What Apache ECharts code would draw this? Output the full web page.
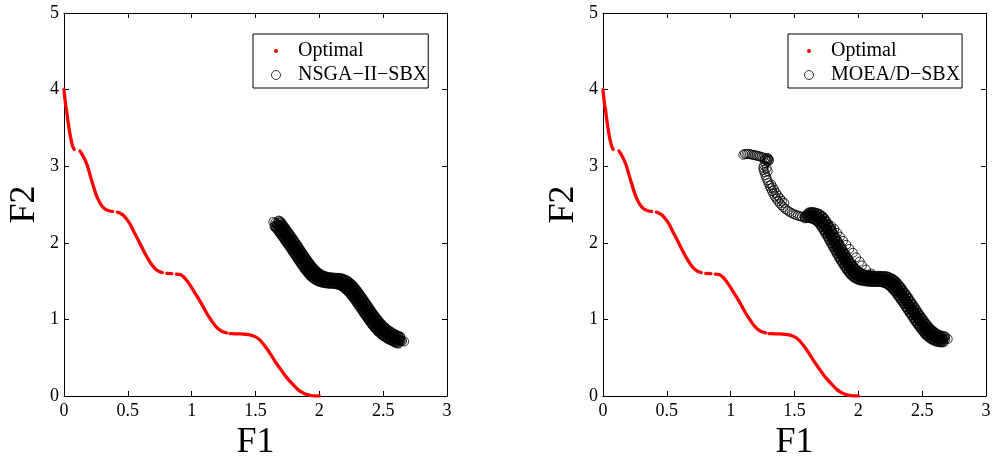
<!DOCTYPE html>
<html>
<head>
<meta charset="utf-8">
<script src="https://cdn.jsdelivr.net/npm/echarts@6.0.0/dist/echarts.min.js"></script>
<style>
  html, body { margin: 0; padding: 0; background: #fff; }
  #chart { width: 995px; height: 457px; }
</style>
</head>
<body>
<div id="chart"></div>
<script>
// True Pareto front, drawn as separate pieces (the front is disconnected at the plateaus)
const optimalA = [[0,4.0],[0.006,3.90],[0.013,3.80],[0.021,3.72],[0.030,3.60],[0.040,3.49],[0.050,3.39],[0.060,3.31],[0.070,3.25],[0.080,3.22]];
const optimalB = [[0.125,3.20],[0.150,3.13],[0.178,3.03],[0.205,2.88],[0.230,2.74],[0.256,2.61],[0.282,2.52],[0.308,2.46],[0.334,2.43],[0.358,2.415],[0.381,2.41]];
const optimalC = [[0.418,2.40],[0.440,2.385],[0.465,2.36],[0.490,2.31],[0.517,2.245],[0.555,2.12],[0.595,1.99],[0.625,1.89],[0.655,1.80],[0.685,1.72],[0.715,1.66],[0.745,1.625],[0.770,1.61]];
const optimalD = [[0.805,1.60],[0.845,1.597]];
const optimalE = [[0.880,1.592],[0.910,1.585],[0.940,1.55],[0.965,1.50],[0.990,1.44],[1.013,1.38],[1.050,1.28],[1.085,1.18],[1.118,1.08],[1.155,0.985],[1.196,0.895],[1.235,0.845],[1.274,0.825]];
const optimalF = [[1.300,0.815],[1.340,0.812],[1.378,0.810],[1.420,0.806],[1.457,0.798],[1.500,0.772],[1.535,0.73],[1.575,0.65],[1.614,0.557],[1.650,0.46],[1.692,0.36],[1.740,0.25],[1.796,0.144],[1.835,0.08],[1.874,0.04],[1.920,0.012],[1.960,0.002],[2.000,0]];

// NSGA-II-SBX final population: loose ends, dense core and the two flanks of the band
const nsgaEnds = [[1.640,2.272],[1.655,2.262],[1.668,2.250],[2.648,0.717],[2.664,0.712]];
const nsgaMid = [[1.680,2.232],[1.692,2.205],[1.704,2.178],[1.716,2.150],[1.728,2.122],[1.740,2.094],[1.752,2.066],[1.764,2.038],[1.776,2.009],[1.788,1.980],[1.800,1.950],[1.812,1.921],[1.824,1.891],[1.836,1.861],[1.848,1.831],[1.860,1.801],[1.872,1.772],[1.884,1.743],[1.896,1.715],[1.908,1.688],[1.920,1.662],[1.932,1.638],[1.944,1.616],[1.956,1.596],[1.968,1.578],[1.980,1.563],[1.994,1.549],[2.008,1.537],[2.024,1.527],[2.040,1.519],[2.058,1.513],[2.076,1.509],[2.094,1.507],[2.112,1.505],[2.130,1.503],[2.148,1.499],[2.165,1.493],[2.180,1.484],[2.195,1.472],[2.208,1.457],[2.221,1.440],[2.234,1.420],[2.246,1.399],[2.258,1.376],[2.270,1.352],[2.282,1.326],[2.294,1.299],[2.306,1.271],[2.318,1.243],[2.330,1.214],[2.342,1.185],[2.354,1.156],[2.366,1.126],[2.378,1.097],[2.390,1.068],[2.402,1.039],[2.414,1.011],[2.426,0.984],[2.438,0.958],[2.450,0.933],[2.463,0.909],[2.476,0.886],[2.490,0.864],[2.505,0.843],[2.520,0.823],[2.536,0.805],[2.552,0.788],[2.568,0.773],[2.584,0.759],[2.600,0.746],[2.616,0.735],[2.632,0.725]];
const nsgaUpper = [[1.684,2.285],[1.696,2.267],[1.708,2.240],[1.720,2.213],[1.732,2.185],[1.744,2.157],[1.756,2.129],[1.768,2.101],[1.780,2.073],[1.792,2.044],[1.804,2.015],[1.816,1.985],[1.828,1.956],[1.840,1.926],[1.852,1.896],[1.864,1.866],[1.876,1.836],[1.888,1.807],[1.900,1.778],[1.912,1.750],[1.924,1.723],[1.936,1.697],[1.948,1.673],[1.960,1.651],[1.972,1.631],[1.984,1.613],[1.996,1.598],[2.010,1.584],[2.024,1.572],[2.040,1.562],[2.056,1.554],[2.074,1.548],[2.092,1.544],[2.110,1.542],[2.128,1.540],[2.146,1.538],[2.164,1.534],[2.181,1.528],[2.196,1.519],[2.211,1.507],[2.224,1.492],[2.237,1.475],[2.250,1.455],[2.262,1.434],[2.274,1.411],[2.286,1.387],[2.298,1.361],[2.310,1.334],[2.322,1.306],[2.334,1.278],[2.346,1.249],[2.358,1.220],[2.370,1.191],[2.382,1.161],[2.394,1.132],[2.406,1.103],[2.418,1.074],[2.430,1.046],[2.442,1.019],[2.454,0.993],[2.466,0.968],[2.479,0.944],[2.492,0.921],[2.506,0.899],[2.521,0.878],[2.536,0.858],[2.552,0.840],[2.568,0.823],[2.584,0.808],[2.600,0.794],[2.616,0.781],[2.632,0.770]];
const nsgaLower = [[1.652,2.215],[1.664,2.197],[1.676,2.170],[1.688,2.143],[1.700,2.115],[1.712,2.087],[1.724,2.059],[1.736,2.031],[1.748,2.003],[1.760,1.974],[1.772,1.945],[1.784,1.915],[1.796,1.886],[1.808,1.856],[1.820,1.826],[1.832,1.796],[1.844,1.766],[1.856,1.737],[1.868,1.708],[1.880,1.680],[1.892,1.653],[1.904,1.627],[1.916,1.603],[1.928,1.581],[1.940,1.561],[1.952,1.543],[1.964,1.528],[1.978,1.514],[1.992,1.502],[2.008,1.492],[2.024,1.484],[2.042,1.478],[2.060,1.474],[2.078,1.472],[2.096,1.470],[2.114,1.468],[2.132,1.464],[2.149,1.458],[2.164,1.449],[2.179,1.437],[2.192,1.422],[2.205,1.405],[2.218,1.385],[2.230,1.364],[2.242,1.341],[2.254,1.317],[2.266,1.291],[2.278,1.264],[2.290,1.236],[2.302,1.208],[2.314,1.179],[2.326,1.150],[2.338,1.121],[2.350,1.091],[2.362,1.062],[2.374,1.033],[2.386,1.004],[2.398,0.976],[2.410,0.949],[2.422,0.923],[2.434,0.898],[2.447,0.874],[2.460,0.851],[2.474,0.829],[2.489,0.808],[2.504,0.788],[2.520,0.770],[2.536,0.753],[2.552,0.738],[2.568,0.724],[2.584,0.711],[2.600,0.700],[2.616,0.690]];

// MOEA/D-SBX final population
const moeaChain = [[1.099,3.150],[1.112,3.160],[1.125,3.158],[1.138,3.160],[1.151,3.156],[1.164,3.152],[1.177,3.148],[1.190,3.143],[1.203,3.138],[1.216,3.133],[1.229,3.126],[1.242,3.120],[1.255,3.113],[1.268,3.105],[1.280,3.098],[1.292,3.092],[1.300,3.085],[1.290,3.110],[1.298,3.070],[1.270,3.085],[1.285,3.065],[1.272,3.040],[1.262,3.010],[1.256,2.980],[1.258,2.950],[1.265,2.920],[1.272,2.885],[1.280,2.850],[1.288,2.815],[1.296,2.780],[1.305,2.745],[1.314,2.710],[1.324,2.675],[1.334,2.640],[1.346,2.605],[1.358,2.575],[1.371,2.545],[1.385,2.515],[1.399,2.488],[1.414,2.463],[1.430,2.440],[1.446,2.420],[1.462,2.403],[1.478,2.388],[1.494,2.375],[1.510,2.364],[1.526,2.355],[1.542,2.347],[1.558,2.340],[1.318,2.760],[1.330,2.725],[1.342,2.690],[1.356,2.650],[1.370,2.615],[1.386,2.580],[1.402,2.548],[1.420,2.520],[1.282,2.975],[1.290,2.935]];
const moeaEnds = [[1.580,2.345],[2.680,0.740],[2.700,0.745]];
const moeaMid = [[1.600,2.360],[1.620,2.365],[1.640,2.360],[1.660,2.350],[1.680,2.335],[1.700,2.310],[1.715,2.280],[1.730,2.245],[1.745,2.205],[1.760,2.165],[1.775,2.120],[1.790,2.075],[1.805,2.030],[1.820,1.985],[1.835,1.940],[1.850,1.895],[1.865,1.850],[1.880,1.810],[1.895,1.770],[1.910,1.730],[1.925,1.695],[1.940,1.660],[1.955,1.630],[1.970,1.605],[1.985,1.585],[2.000,1.570],[2.020,1.555],[2.040,1.545],[2.060,1.540],[2.080,1.535],[2.100,1.532],[2.120,1.530],[2.140,1.529],[2.160,1.528],[2.180,1.527],[2.200,1.525],[2.220,1.515],[2.240,1.500],[2.255,1.485],[2.270,1.465],[2.285,1.440],[2.300,1.410],[2.315,1.380],[2.330,1.345],[2.345,1.310],[2.360,1.275],[2.375,1.240],[2.390,1.200],[2.405,1.165],[2.420,1.125],[2.435,1.090],[2.450,1.050],[2.465,1.015],[2.480,0.980],[2.495,0.945],[2.510,0.910],[2.525,0.880],[2.540,0.850],[2.555,0.825],[2.570,0.805],[2.585,0.785],[2.600,0.770],[2.620,0.755],[2.640,0.745],[2.660,0.740]];
const moeaUpper = [[1.616,2.395],[1.636,2.400],[1.656,2.395],[1.676,2.385],[1.696,2.370],[1.716,2.345],[1.731,2.315],[1.746,2.280],[1.761,2.240],[1.776,2.200],[1.791,2.155],[1.806,2.110],[1.821,2.065],[1.836,2.020],[1.851,1.975],[1.866,1.930],[1.881,1.885],[1.896,1.845],[1.911,1.805],[1.926,1.765],[1.941,1.730],[1.956,1.695],[1.971,1.665],[1.986,1.640],[2.001,1.620],[2.016,1.605],[2.036,1.590],[2.056,1.580],[2.076,1.575],[2.096,1.570],[2.116,1.567],[2.136,1.565],[2.156,1.564],[2.176,1.563],[2.196,1.562],[2.216,1.560],[2.236,1.550],[2.256,1.535],[2.271,1.520],[2.286,1.500],[2.301,1.475],[2.316,1.445],[2.331,1.415],[2.346,1.380],[2.361,1.345],[2.376,1.310],[2.391,1.275],[2.406,1.235],[2.421,1.200],[2.436,1.160],[2.451,1.125],[2.466,1.085],[2.481,1.050],[2.496,1.015],[2.511,0.980],[2.526,0.945],[2.541,0.915],[2.556,0.885],[2.571,0.860],[2.586,0.840],[2.601,0.820],[2.616,0.805],[2.636,0.790],[2.656,0.780],[2.676,0.775]];
const moeaLower = [[1.584,2.325],[1.604,2.330],[1.624,2.325],[1.644,2.315],[1.664,2.300],[1.684,2.275],[1.699,2.245],[1.714,2.210],[1.729,2.170],[1.744,2.130],[1.759,2.085],[1.774,2.040],[1.789,1.995],[1.804,1.950],[1.819,1.905],[1.834,1.860],[1.849,1.815],[1.864,1.775],[1.879,1.735],[1.894,1.695],[1.909,1.660],[1.924,1.625],[1.939,1.595],[1.954,1.570],[1.969,1.550],[1.984,1.535],[2.004,1.520],[2.024,1.510],[2.044,1.505],[2.064,1.500],[2.084,1.497],[2.104,1.495],[2.124,1.494],[2.144,1.493],[2.164,1.492],[2.184,1.490],[2.204,1.480],[2.224,1.465],[2.239,1.450],[2.254,1.430],[2.269,1.405],[2.284,1.375],[2.299,1.345],[2.314,1.310],[2.329,1.275],[2.344,1.240],[2.359,1.205],[2.374,1.165],[2.389,1.130],[2.404,1.090],[2.419,1.055],[2.434,1.015],[2.449,0.980],[2.464,0.945],[2.479,0.910],[2.494,0.875],[2.509,0.845],[2.524,0.815],[2.539,0.790],[2.554,0.770],[2.569,0.750],[2.584,0.735],[2.604,0.720],[2.624,0.710],[2.644,0.705],[2.664,0.705]];
const moeaOutliers = [[1.787,2.220],[1.812,2.180],[1.833,2.130],[1.856,2.080],[1.880,2.025],[1.905,1.975],[1.930,1.920],[1.957,1.870],[1.982,1.810],[2.010,1.755],[2.028,1.705],[2.060,1.650],[2.100,1.598]];

const xTicks = { min: 0, max: 3, interval: 0.5 };
const yTicks = { min: 0, max: 5, interval: 1 };
const xTitle = 'F1';
const yTitle = 'F2';
const optimalName = 'Optimal';
const nsgaName = 'NSGA\u2212II\u2212SBX';
const moeaName = 'MOEA/D\u2212SBX';

const FONT = '"Liberation Serif", "Times New Roman", serif';
const INK = '#000';

const chart = echarts.init(document.getElementById('chart'), null, { renderer: 'canvas' });

function frameAxis(dim, gridIndex, position, withLabels) {
  const t = dim === 'x' ? xTicks : yTicks;
  const ax = {
    type: 'value', gridIndex, position,
    min: t.min, max: t.max, interval: t.interval,
    axisLine: { show: true, onZero: false, lineStyle: { color: INK, width: 1 } },
    axisTick: { show: true, inside: true, length: 5, lineStyle: { color: INK, width: 1 } },
    axisLabel: { show: withLabels, color: INK, fontSize: 18, fontFamily: FONT, margin: dim === 'x' ? 6 : 5 },
    splitLine: { show: false }
  };
  if (withLabels) {
    ax.name = dim === 'x' ? xTitle : yTitle;
    ax.nameLocation = 'middle';
    ax.nameGap = dim === 'x' ? 20 : 21;
    ax.nameTextStyle = { fontSize: 36, fontFamily: FONT, color: INK };
    if (dim === 'y') ax.nameRotate = 90;
  }
  return ax;
}

function optimalSeries(axisIndex) {
  return [optimalA, optimalB, optimalC, optimalD, optimalE, optimalF].map(seg => ({
    name: optimalName, type: 'line', data: seg,
    xAxisIndex: axisIndex, yAxisIndex: axisIndex,
    showSymbol: false, symbol: 'none', smooth: 0.3,
    lineStyle: { color: '#ff0000', width: 3.3, cap: 'round' },
    itemStyle: { color: '#ff0000' },
    silent: true, z: 2
  }));
}

// hollow circle markers; where the population is dense the outlines run together
function popSeries(name, data, axisIndex, stroke) {
  return {
    name, type: 'scatter', data,
    xAxisIndex: axisIndex, yAxisIndex: axisIndex,
    symbol: 'circle', symbolSize: 9,
    itemStyle: { color: 'rgba(0,0,0,0)', borderColor: INK, borderWidth: stroke },
    silent: true, z: 3
  };
}

function legendFor(left, name, pad) {
  return {
    left, top: 34, orient: 'vertical',
    selectedMode: false,
    itemWidth: 34, itemHeight: 9, itemGap: 4,
    padding: pad,
    borderColor: INK, borderWidth: 1, backgroundColor: '#fff',
    textStyle: { fontSize: 20, lineHeight: 20, fontFamily: FONT, color: INK },
    data: [
      { name: optimalName, icon: 'circle', itemStyle: { color: '#ff0000', borderColor: '#fff', borderWidth: 5 } },
      { name, icon: 'circle', itemStyle: { color: 'rgba(0,0,0,0)', borderColor: INK, borderWidth: 1 } }
    ]
  };
}

const option = {
  animation: false,
  backgroundColor: '#fff',
  grid: [
    { left: 64, top: 13, width: 383, height: 383, outerBoundsMode: 'none', containLabel: false },
    { left: 603, top: 13, width: 383, height: 383, outerBoundsMode: 'none', containLabel: false }
  ],
  xAxis: [
    frameAxis('x', 0, 'bottom', true), frameAxis('x', 0, 'top', false),
    frameAxis('x', 1, 'bottom', true), frameAxis('x', 1, 'top', false)
  ],
  yAxis: [
    frameAxis('y', 0, 'left', true), frameAxis('y', 0, 'right', false),
    frameAxis('y', 1, 'left', true), frameAxis('y', 1, 'right', false)
  ],
  legend: [
    legendFor(253, nsgaName, [7, 1, 3, 16]),
    legendFor(788, moeaName, [7, 2, 3, 14])
  ],
  series: [
    ...optimalSeries(0),
    popSeries(nsgaName, nsgaEnds, 0, 1),
    popSeries(nsgaName, nsgaUpper, 0, 1.8),
    popSeries(nsgaName, nsgaLower, 0, 1.8),
    popSeries(nsgaName, nsgaMid, 0, 2.6),
    ...optimalSeries(2),
    popSeries(moeaName, moeaChain, 2, 1),
    popSeries(moeaName, moeaEnds, 2, 1),
    popSeries(moeaName, moeaUpper, 2, 1.8),
    popSeries(moeaName, moeaLower, 2, 1.8),
    popSeries(moeaName, moeaMid, 2, 2.6),
    popSeries(moeaName, moeaOutliers, 2, 1)
  ]
};

chart.setOption(option);
</script>
</body>
</html>
